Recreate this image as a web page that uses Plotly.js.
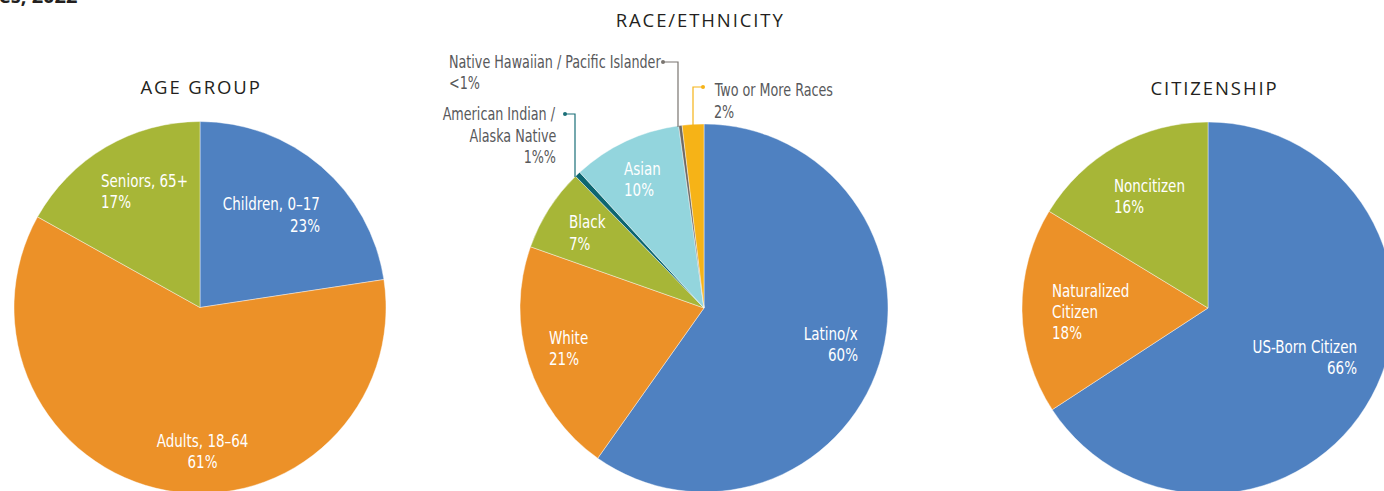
<!DOCTYPE html>
<html>
<head>
<meta charset="utf-8">
<script src="https://cdn.plot.ly/plotly-3.0.1.min.js"></script>
<style>
  html, body { margin: 0; padding: 0; overflow: hidden; background: #fff; }
  #chart { width: 1400px; height: 500px; }
</style>
</head>
<body>
<div id="chart"></div>
<script>
// ---------- DATA ----------
const ageLabels = ["Children, 0–17", "Adults, 18–64", "Seniors, 65+"];
const ageValues = [22.6, 60.5, 16.9];
const agePct = ["23%", "61%", "17%"];

const raceLabels = ["Latino/x", "White", "Black", "American Indian / Alaska Native", "Asian", "Native Hawaiian / Pacific Islander", "Two or More Races"];
const raceValues = [59.8, 20.6, 7.3, 0.5, 9.6, 0.3, 1.9];
const racePct = ["60%", "21%", "7%", "1%%", "10%", "<1%", "2%"];

const citLabels = ["US-Born Citizen", "Naturalized Citizen", "Noncitizen"];
const citValues = [65.8, 17.9, 16.3];
const citPct = ["66%", "18%", "16%"];

const panelTitles = ["AGE GROUP", "RACE/ETHNICITY", "CITIZENSHIP"];
const topNote = "es, 2022";

// ---------- STYLE / LAYOUT ----------
const W = 1400, H = 500;
const px = x => x / W;
const py = y => 1 - y / H;

const BLUE = "#4F81C1", ORANGE = "#EC9128", GREEN = "#A7B637",
      LTEAL = "#93D5DD", DTEAL = "#0D6670", GRAY = "#6F6A65", GOLD = "#F6B317";

function dom(cx, cy, r) {
  return { x: [px(cx - r), px(cx + r)], y: [py(cy + r), py(cy - r)] };
}

const sliceLine = { color: "rgba(255,255,255,0.7)", width: 0.6 };
const base = {
  type: "pie", sort: false, direction: "clockwise", rotation: 0,
  textinfo: "none", hoverinfo: "skip", showlegend: false
};

const traces = [
  Object.assign({}, base, { labels: ageLabels, values: ageValues, domain: dom(200, 307.5, 186),
    marker: { colors: [BLUE, ORANGE, GREEN], line: sliceLine } }),
  Object.assign({}, base, { labels: raceLabels, values: raceValues, domain: dom(704, 308, 184),
    marker: { colors: [BLUE, ORANGE, GREEN, DTEAL, LTEAL, GRAY, GOLD], line: sliceLine } }),
  Object.assign({}, base, { labels: citLabels, values: citValues, domain: dom(1208, 308, 186),
    marker: { colors: [BLUE, ORANGE, GREEN], line: sliceLine } })
];

const LBL_FONT = "'Liberation Sans Narrow', 'DejaVu Sans Condensed', 'Roboto Condensed', sans-serif";
const annotations = [];
const narrowIdx = [];   // annotations to draw condensed
const anchorOf = [];

function addLines(lines, x, yStart, anchor, color, size, step) {
  lines.forEach((t, i) => {
    narrowIdx.push(annotations.length);
    anchorOf[annotations.length] = anchor;
    annotations.push({
      text: t, xref: "paper", yref: "paper", x: px(x), y: py(yStart + i * step),
      xanchor: anchor, yanchor: "middle", showarrow: false, align: anchor,
      font: { family: LBL_FONT, size: size, color: color }
    });
  });
}
const WH = "#FFFFFF", TXT = "#58595B";
const IN = 18.5, OUT = 17.5, STEP = 21.3;

// age pie labels
addLines([ageLabels[0], agePct[0]], 322, 204, "right", WH, IN, STEP);
addLines([ageLabels[1], agePct[1]], 202, 440, "center", WH, IN, STEP);
addLines([ageLabels[2], agePct[2]], 99, 180, "left", WH, IN, STEP);

// race pie labels
addLines([raceLabels[0], racePct[0]], 860, 333, "right", WH, IN, STEP);
addLines([raceLabels[1], racePct[1]], 547, 337, "left", WH, IN, STEP);
addLines([raceLabels[2], racePct[2]], 567, 222, "left", WH, IN, STEP);
addLines([raceLabels[4], racePct[4]], 622, 168, "left", WH, IN, STEP);
addLines(["American Indian /", "Alaska Native", racePct[3]], 558, 114, "right", TXT, OUT, 21.5);
addLines([raceLabels[5], racePct[5]], 447, 62, "left", TXT, OUT, 21);
addLines([raceLabels[6], racePct[6]], 712, 90, "left", TXT, OUT, 22);

// citizenship labels
addLines([citLabels[0], citPct[0]], 1359, 346, "right", WH, IN, STEP);
addLines(["Naturalized", "Citizen", citPct[1]], 1050, 290, "left", WH, IN, STEP);
addLines([citLabels[2], citPct[2]], 1112, 185, "left", WH, IN, STEP);

// panel titles
const TITLE_FONT = { family: "'Open Sans', 'Noto Sans', sans-serif", size: 18.5, color: "#231F20" };
[[panelTitles[0], 201, 87], [panelTitles[1], 701, 19.5], [panelTitles[2], 1214, 87.3]].forEach(([t, x, y]) => {
  annotations.push({ text: t, xref: "paper", yref: "paper", x: px(x), y: py(y), xanchor: "center", yanchor: "middle",
    showarrow: false, font: TITLE_FONT });
});

// clipped subtitle at top-left (cut off by the top edge, as in the source)
annotations.push({ text: "<b>" + topNote + "</b>", xref: "paper", yref: "paper", x: px(-3), y: py(10.5),
  xanchor: "left", yanchor: "bottom", showarrow: false,
  font: { family: "'Open Sans', sans-serif", size: 20, color: "#231F20" } });

// leader lines and dots
const shapes = [];
function leader(pts, color) {
  const path = pts.map((p, i) => (i ? "L" : "M") + px(p[0]) + "," + py(p[1])).join(" ");
  shapes.push({ type: "path", xref: "paper", yref: "paper", path: path, line: { color: color, width: 1.2 } });
  const d = pts[0];
  shapes.push({ type: "circle", xref: "paper", yref: "paper",
    x0: px(d[0] - 2), x1: px(d[0] + 2), y0: py(d[1] + 2), y1: py(d[1] - 2),
    fillcolor: color, line: { width: 0 } });
}
leader([[663, 62], [678, 62], [678, 127]], "#7A7570");
leader([[703, 87], [693, 87], [693, 125]], GOLD);
leader([[565, 114], [575, 114], [575, 177]], "#1A6F78");

const layout = {
  width: W, height: H,
  margin: { l: 0, r: 0, t: 0, b: 0, pad: 0 },
  paper_bgcolor: "#ffffff", plot_bgcolor: "#ffffff",
  showlegend: false,
  annotations: annotations,
  shapes: shapes
};

const SQUEEZE = 0.81;
Plotly.newPlot("chart", traces, layout, { staticPlot: true, displayModeBar: false }).then(() => {
  document.querySelectorAll("g.annotation").forEach(g => {
    const idx = +g.getAttribute("data-index");
    const txt = g.querySelector("text.annotation-text");
    if (!txt) return;
    if (panelTitles.includes(txt.textContent)) {
      txt.style.letterSpacing = "1.9px";
      return;
    }
    if (narrowIdx.includes(idx)) {
      const bb = txt.getBBox();
      const a = anchorOf[idx];
      const ax = a === "left" ? bb.x : (a === "right" ? bb.x + bb.width : bb.x + bb.width / 2);
      txt.setAttribute("transform", `translate(${ax},0) scale(${SQUEEZE},1) translate(${-ax},0)`);
    }
  });
});
</script>
</body>
</html>
